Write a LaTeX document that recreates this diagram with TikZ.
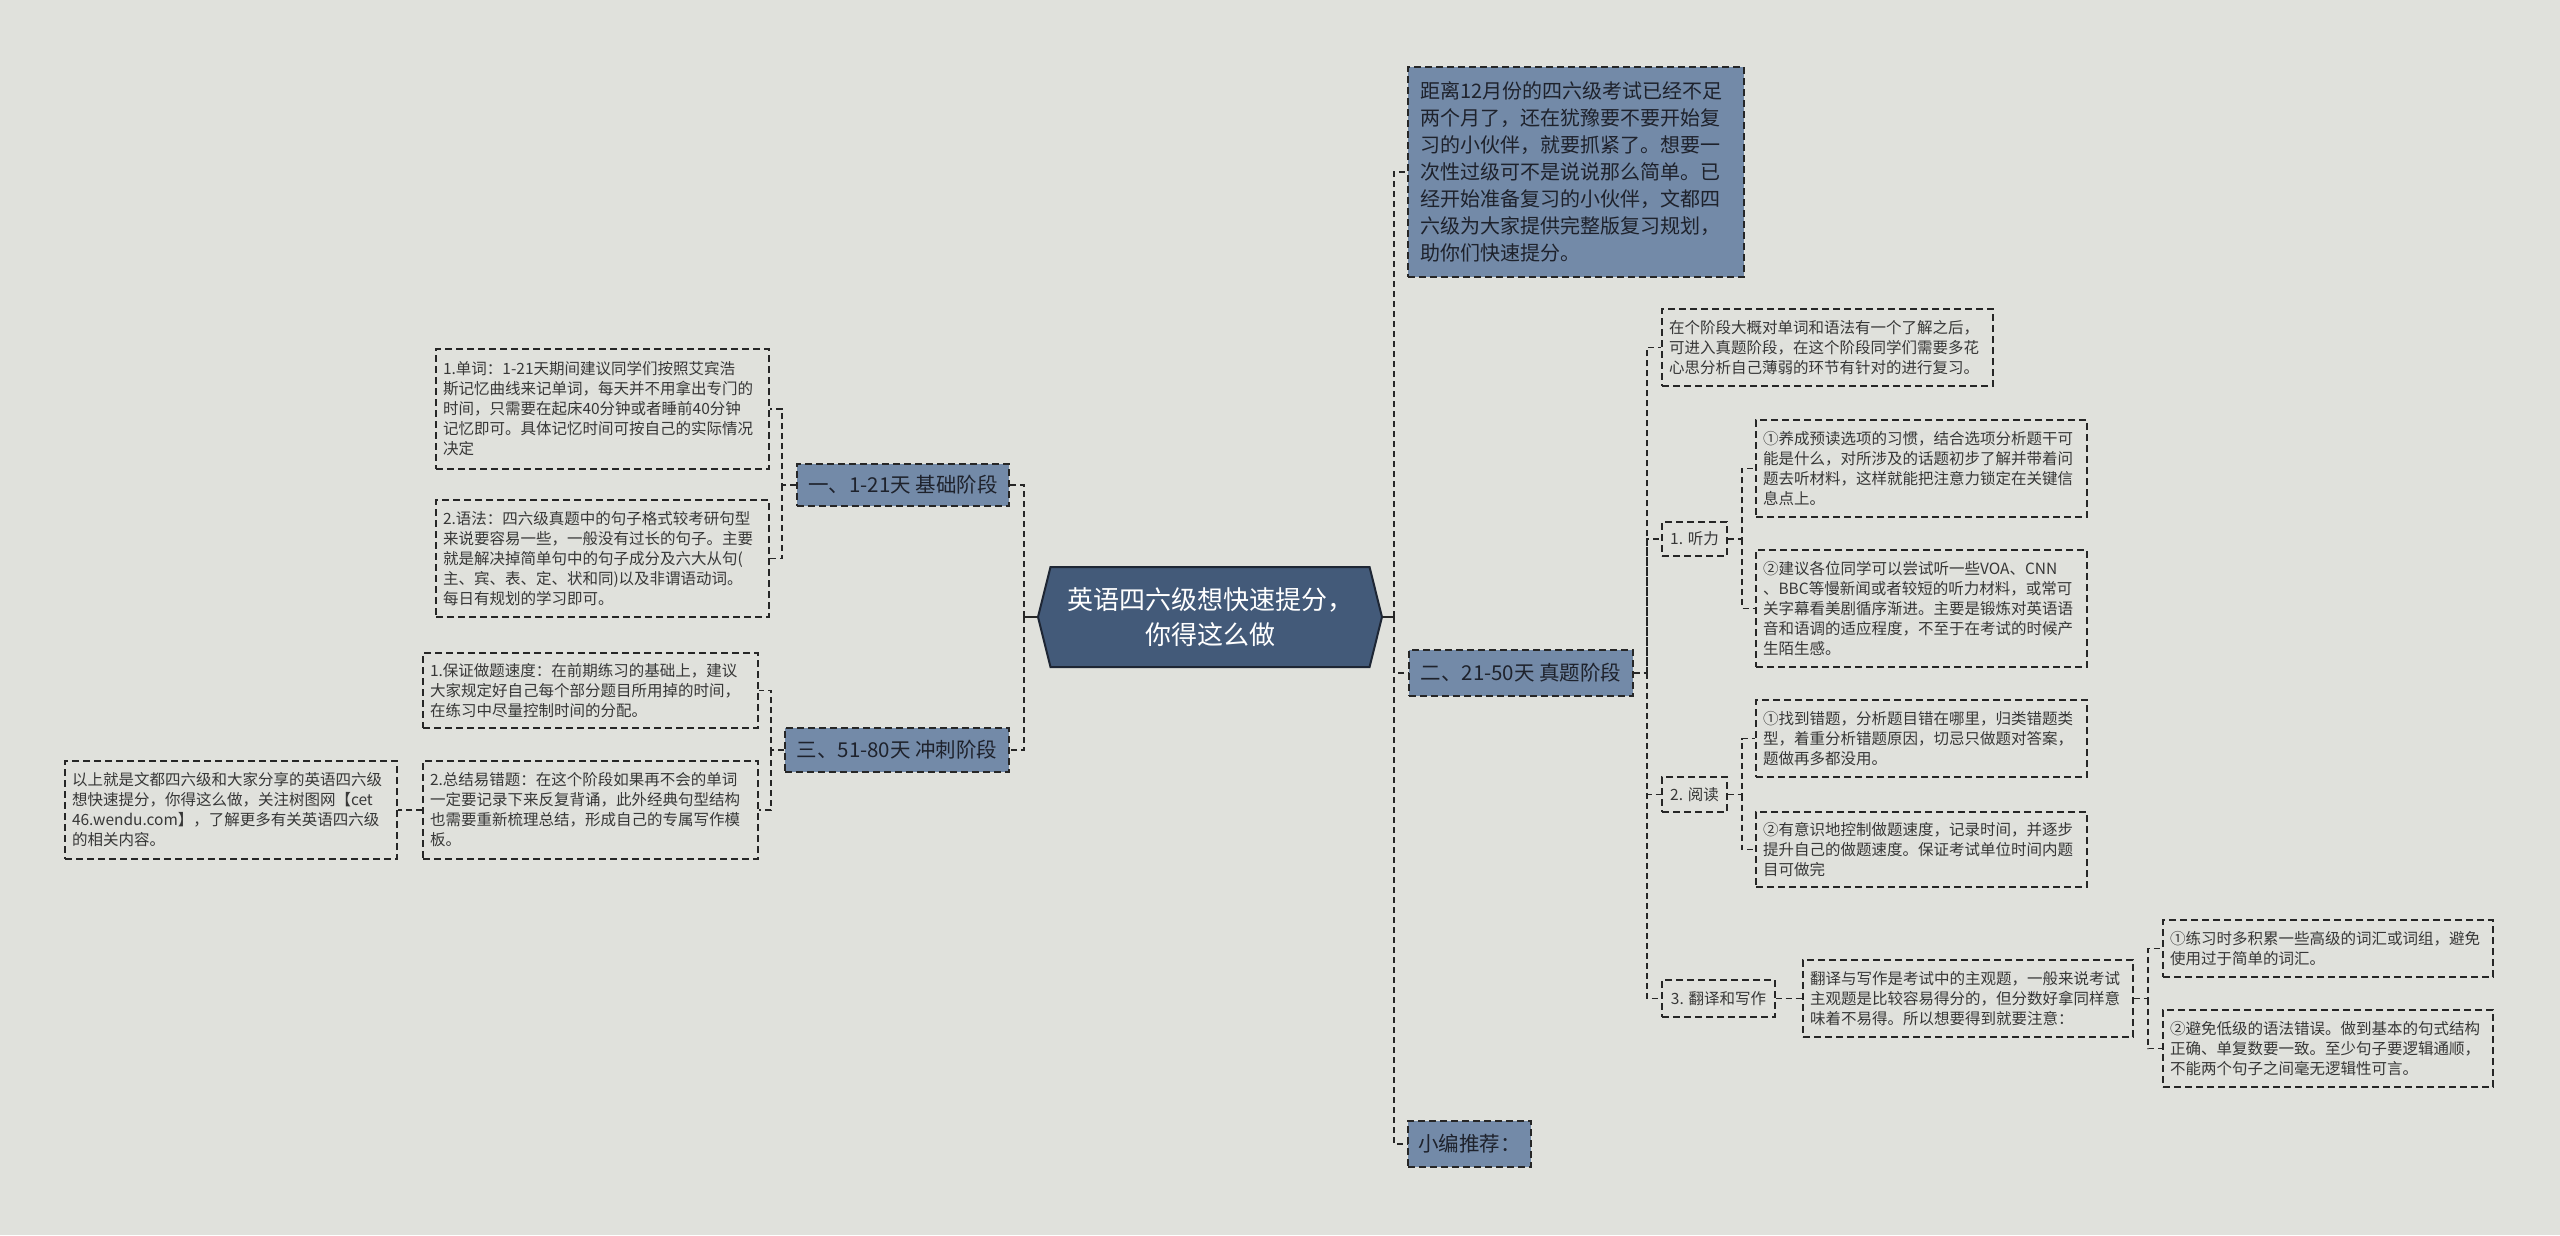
\documentclass[tikz,border=0pt]{standalone}
\usepackage{fontspec}
\setmainfont{Noto Sans CJK SC}
\usepackage{tikz}
\usetikzlibrary{shapes.symbols,positioning,calc}
\definecolor{cBack}{RGB}{224,225,220}
\definecolor{cBlue}{RGB}{115,138,168}
\definecolor{cRoot}{RGB}{67,90,121}
\definecolor{cRootEdge}{RGB}{30,38,52}
\definecolor{cLine}{RGB}{38,38,38}
\definecolor{cText}{RGB}{55,55,55}
\definecolor{cDark}{RGB}{30,34,44}
\tikzset{
  root/.style={shape=signal, signal to=west and east, signal pointer angle=152,
               draw=cRootEdge, line width=2pt, fill=cRoot, text=white, align=center,
               font=\fontsize{26}{35}\selectfont, minimum width=344pt, minimum height=100pt, inner sep=0pt},
  stage/.style={draw=cLine, fill=cBlue, line width=1.4pt, dash pattern=on 7pt off 4pt,
               text=cDark, align=center, font=\fontsize{20.5}{27}\selectfont, inner sep=0pt},
  note/.style={draw=cLine, line width=1.4pt, dash pattern=on 7pt off 4pt, text=cText,
               align=left, font=\fontsize{15.5}{20}\selectfont, inner xsep=7pt, inner ysep=0pt},
  tag/.style={draw=cLine, line width=1.4pt, dash pattern=on 7pt off 4pt, text=cText,
               align=center, font=\fontsize{15.5}{20}\selectfont, inner sep=0pt},
  link/.style={draw=cLine, line width=1.4pt, dash pattern=on 6pt off 4pt},
  stub/.style={draw=cLine, line width=2pt},
}

\begin{document}
\begin{tikzpicture}[x=1pt,y=-1pt]
  \fill[cBack] (0,0) rectangle (2560,1235);
  \useasboundingbox (0,0) rectangle (2560,1235);

  % centre
  \node[root] (root) at (1210,617) {英语四六级想快速提分，\\你得这么做};
  \coordinate (jL) at (1024,617);
  \coordinate (jR) at (1394,617);

  % left stages
  \node[stage, minimum width=212pt, minimum height=42pt] (b1) at (903,485) {一、1-21天 基础阶段};
  \node[stage, minimum width=224pt, minimum height=44pt] (b3) at (897,750) {三、51-80天 冲刺阶段};
  \coordinate (j1) at (782,485);
  \coordinate (j3) at (771,750);

  \node[note, text width=319pt, minimum height=120pt] (n11) at (602.5,409)
    {1.单词：1-21天期间建议同学们按照艾宾浩\\斯记忆曲线来记单词，每天并不用拿出专门的\\时间，只需要在起床40分钟或者睡前40分钟\\记忆即可。具体记忆时间可按自己的实际情况\\决定};
  \node[note, text width=319pt, minimum height=117pt] (n12) at (602.5,558.5)
    {2.语法：四六级真题中的句子格式较考研句型\\来说要容易一些，一般没有过长的句子。主要\\就是解决掉简单句中的句子成分及六大从句(\\主、宾、表、定、状和同)以及非谓语动词。\\每日有规划的学习即可。};
  \node[note, text width=321pt, minimum height=75pt] (n31) at (590.5,690.5)
    {1.保证做题速度：在前期练习的基础上，建议\\大家规定好自己每个部分题目所用掉的时间，\\在练习中尽量控制时间的分配。};
  \node[note, text width=321pt, minimum height=98pt] (n32) at (590.5,810)
    {2.总结易错题：在这个阶段如果再不会的单词\\一定要记录下来反复背诵，此外经典句型结构\\也需要重新梳理总结，形成自己的专属写作模\\板。};
  \node[note, text width=318pt, minimum height=98pt] (n33) at (231,810)
    {以上就是文都四六级和大家分享的英语四六级\\想快速提分，你得这么做，关注树图网【cet\\46.wendu.com】，了解更多有关英语四六级\\的相关内容。};

  % right stages
  \node[stage, align=left, text width=312pt, inner xsep=12pt, minimum height=210pt,
        font=\fontsize{20}{27}\selectfont] (b0) at (1576,172)
    {距离12月份的四六级考试已经不足\\两个月了，还在犹豫要不要开始复\\习的小伙伴，就要抓紧了。想要一\\次性过级可不是说说那么简单。已\\经开始准备复习的小伙伴，文都四\\六级为大家提供完整版复习规划，\\助你们快速提分。};
  \node[stage, minimum width=224pt, minimum height=46pt] (b2) at (1521,673) {二、21-50天 真题阶段};
  \node[stage, minimum width=123pt, minimum height=46pt] (b4) at (1469.5,1144) {小编推荐：};
  \coordinate (j2) at (1647,673);

  \node[note, text width=317pt, minimum height=77pt] (n21) at (1827.5,347.5)
    {在个阶段大概对单词和语法有一个了解之后，\\可进入真题阶段，在这个阶段同学们需要多花\\心思分析自己薄弱的环节有针对的进行复习。};
  \node[tag, minimum width=65pt, minimum height=34pt] (s1) at (1694.5,539) {1. 听力};
  \node[tag, minimum width=65pt, minimum height=35pt] (s2) at (1694.5,794.5) {2. 阅读};
  \node[tag, minimum width=113pt, minimum height=37pt] (s3) at (1718.5,998.5) {3. 翻译和写作};
  \coordinate (j4) at (1742,539);
  \coordinate (j5) at (1742,794.5);
  \coordinate (j6) at (2148,998.5);

  \node[note, text width=317pt, minimum height=97pt] (n41) at (1921.5,468.5)
    {①养成预读选项的习惯，结合选项分析题干可\\能是什么，对所涉及的话题初步了解并带着问\\题去听材料，这样就能把注意力锁定在关键信\\息点上。};
  \node[note, text width=317pt, minimum height=117pt] (n42) at (1921.5,608.5)
    {②建议各位同学可以尝试听一些VOA、CNN\\、BBC等慢新闻或者较短的听力材料，或常可\\关字幕看美剧循序渐进。主要是锻炼对英语语\\音和语调的适应程度，不至于在考试的时候产\\生陌生感。};
  \node[note, text width=317pt, minimum height=77pt] (n51) at (1921.5,738.5)
    {①找到错题，分析题目错在哪里，归类错题类\\型，着重分析错题原因，切忌只做题对答案，\\题做再多都没用。};
  \node[note, text width=317pt, minimum height=75pt] (n52) at (1921.5,849.5)
    {②有意识地控制做题速度，记录时间，并逐步\\提升自己的做题速度。保证考试单位时间内题\\目可做完};
  \node[note, text width=316pt, minimum height=77pt] (n61) at (1968,998.5)
    {翻译与写作是考试中的主观题，一般来说考试\\主观题是比较容易得分的，但分数好拿同样意\\味着不易得。所以想要得到就要注意：};
  \node[note, text width=316pt, minimum height=57pt] (n71) at (2328,948.5)
    {①练习时多积累一些高级的词汇或词组，避免\\使用过于简单的词汇。};
  \node[note, text width=316pt, minimum height=77pt] (n72) at (2328,1048.5)
    {②避免低级的语法错误。做到基本的句式结构\\正确、单复数要一致。至少句子要逻辑通顺，\\不能两个句子之间毫无逻辑性可言。};

  % connectors
  \draw[stub] (root.west) -- (jL);
  \draw[stub] (root.east) -- (jR);
  \draw[link] (jL) |- (b1.east);
  \draw[link] (jL) |- (b3.east);
  \draw[link] (b1.west) -- (j1) |- (n11.east);
  \draw[link] (j1) |- (n12.east);
  \draw[link] (b3.west) -- (j3) |- (n31.east);
  \draw[link] (j3) |- (n32.east);
  \draw[link] (n32.west) -- (n33.east);
  \draw[link] (jR) |- (b0.west);
  \draw[link] (jR) |- (b2.west);
  \draw[link] (jR) |- (b4.west);
  \draw[link] (b2.east) -- (j2) |- (n21.west);
  \draw[link] (j2) |- (s1.west);
  \draw[link] (j2) |- (s2.west);
  \draw[link] (j2) |- (s3.west);
  \draw[link] (s1.east) -- (j4) |- (n41.west);
  \draw[link] (j4) |- (n42.west);
  \draw[link] (s2.east) -- (j5) |- (n51.west);
  \draw[link] (j5) |- (n52.west);
  \draw[link] (s3.east) -- (n61.west);
  \draw[link] (n61.east) -- (j6) |- (n71.west);
  \draw[link] (j6) |- (n72.west);
\end{tikzpicture}
\end{document}
